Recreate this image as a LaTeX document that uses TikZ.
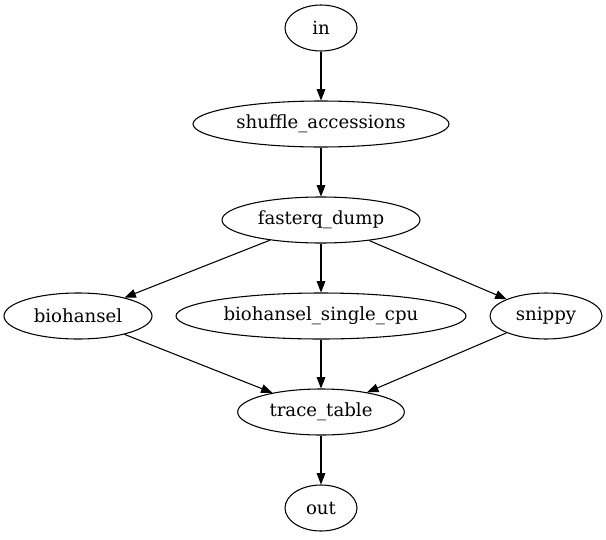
\documentclass[tikz,border=0pt]{standalone}
\usepackage{fontspec}
\setmainfont{DejaVu Serif}
\usetikzlibrary{shapes.geometric,arrows.meta}
\begin{document}
\begin{tikzpicture}[x=0.75pt,y=-0.75pt,
  nd/.style={draw,ellipse,inner sep=0pt,minimum height=34.5pt,line width=0.8pt,font=\fontsize{13.6}{15}\selectfont},
  ed/.style={-{Triangle[length=8.5pt,width=6.5pt]},line width=0.8pt}]
\useasboundingbox (0,0) rectangle (606,539);
\node[nd,minimum width=54pt] (in) at (321,28) {in};
\node[nd,minimum width=192pt] (shuf) at (321,124) {shuffle\_accessions};
\node[nd,minimum width=148.5pt] (fq) at (321,220) {fasterq\_dump};
\node[nd,minimum width=111pt] (bh) at (78,316) {biohansel};
\node[nd,minimum width=217.5pt] (bhs) at (321,316) {biohansel\_single\_cpu};
\node[nd,minimum width=84pt] (sn) at (546,316) {snippy};
\node[nd,minimum width=125pt] (tt) at (321,412) {trace\_table};
\node[nd,minimum width=54pt] (out) at (321,508) {out};
\draw[ed] (in) -- (shuf);
\draw[ed] (shuf) -- (fq);
\draw[ed] (fq) -- (bh);
\draw[ed] (fq) -- (bhs);
\draw[ed] (fq) -- (sn);
\draw[ed] (bh) -- (tt);
\draw[ed] (bhs) -- (tt);
\draw[ed] (sn) -- (tt);
\draw[ed] (tt) -- (out);
\end{tikzpicture}
\end{document}
